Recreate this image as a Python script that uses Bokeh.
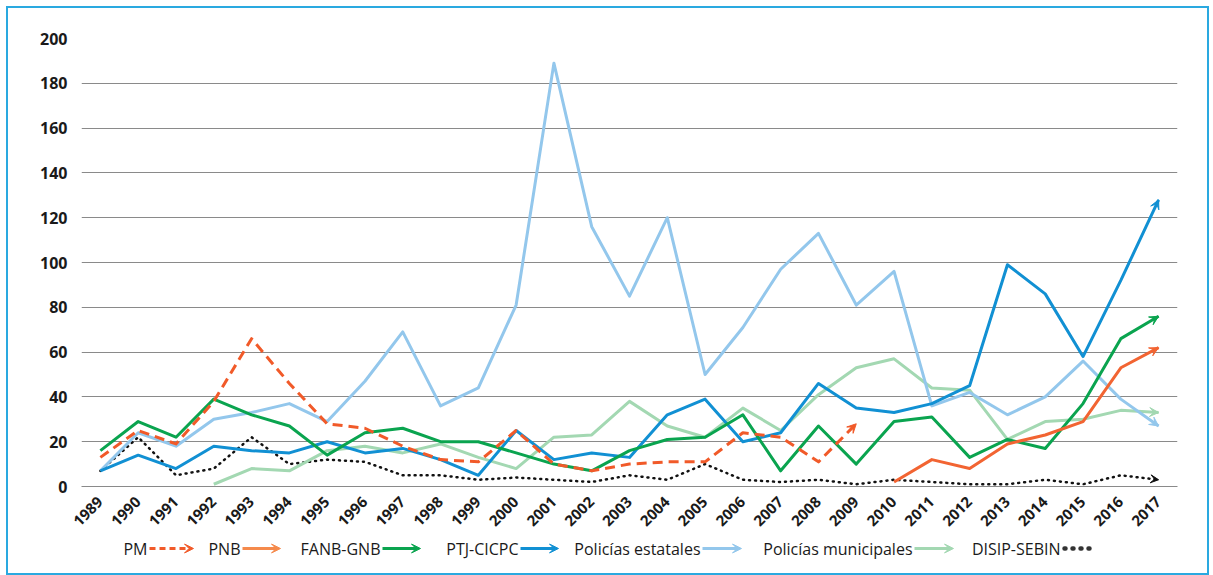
import math
from bokeh.plotting import figure
from bokeh.models import Range1d, FixedTicker, Arrow, VeeHead
from bokeh.layouts import column
from bokeh.core.properties import value
from bokeh.embed import file_html
from bokeh.resources import INLINE

NaN = float("nan")

years = list(range(1989, 2018))
y_ticks = [0, 20, 40, 60, 80, 100, 120, 140, 160, 180, 200]

pm = [13, 25, 19, 38, 66, 46, 28, 26, 18, 12, 11, 25, 10, 7, 10, 11, 11, 24, 22, 11, 28,
      NaN, NaN, NaN, NaN, NaN, NaN, NaN, NaN]
pnb = [NaN] * 21 + [2, 12, 8, 19, 23, 29, 53, 62]
fanb = [16, 29, 22, 39, 32, 27, 14, 24, 26, 20, 20, 15, 10, 7, 16, 21, 22, 32, 7, 27, 10,
        29, 31, 13, 21, 17, 37, 66, 76]
ptj = [7, 14, 8, 18, 16, 15, 20, 15, 17, 12, 5, 25, 12, 15, 13, 32, 39, 20, 24, 46, 35,
       33, 37, 45, 99, 86, 58, 92, 128]
estatales = [7, 24, 18, 30, 33, 37, 29, 47, 69, 36, 44, 81, 189, 116, 85, 120, 50, 71, 97,
             113, 81, 96, 36, 42, 32, 40, 56, 39, 27]
municipales = [NaN, NaN, NaN, 1, 8, 7, 16, 18, 15, 19, 13, 8, 22, 23, 38, 27, 22, 35, 25,
               41, 53, 57, 44, 43, 21, 29, 30, 34, 33]
disip = [7, 22, 5, 8, 22, 10, 12, 11, 5, 5, 3, 4, 3, 2, 5, 3, 10, 3, 2, 3, 1, 3, 2, 1, 1,
         3, 1, 5, 3]

names = ["PM", "PNB", "FANB-GNB", "PTJ-CICPC", "Policías estatales",
         "Policías municipales", "DISIP-SEBIN"]

FONT = "Open Sans"
W = 1199
ML, MR = 73, 30          # frame borders in the figure (frame = page x 81..1177)

p = figure(width=W, height=530, output_backend="svg", toolbar_location=None,
           x_range=Range1d(1988.5, 2017.5), y_range=Range1d(0, 200),
           min_border_left=ML, min_border_right=MR, min_border_top=30,
           min_border_bottom=52)
p.outline_line_color = None
p.background_fill_color = "white"
p.border_fill_color = "white"

p.xgrid.grid_line_color = None
p.ygrid.grid_line_color = "#8a8a8a"
p.ygrid.grid_line_width = 1

p.yaxis.ticker = FixedTicker(ticks=y_ticks)
p.yaxis.axis_line_color = None
p.yaxis.major_tick_line_color = None
p.yaxis.minor_tick_line_color = None
p.yaxis.major_label_text_font = FONT
p.yaxis.major_label_text_font_style = "bold"
p.yaxis.major_label_text_font_size = "16px"
p.yaxis.major_label_text_color = "#1a1a1a"
p.yaxis.major_label_standoff = 8

p.xaxis.ticker = FixedTicker(ticks=years)
p.xaxis.major_label_overrides = {y: str(y) for y in years}
p.xaxis.axis_line_color = "#8a8a8a"
p.xaxis.major_tick_line_color = None
p.xaxis.minor_tick_line_color = None
p.xaxis.major_label_orientation = math.pi / 4
p.xaxis.major_label_text_font = FONT
p.xaxis.major_label_text_font_style = "bold"
p.xaxis.major_label_text_font_size = "15px"
p.xaxis.major_label_text_color = "#1a1a1a"
p.xaxis.major_label_standoff = 7

series = [
    (disip, "#111111", 2.5, "1 5", "round"),
    (municipales, "#a3d8b2", 3, "solid", "butt"),
    (estatales, "#93c7ec", 3, "solid", "butt"),
    (ptj, "#1190d3", 3, "solid", "butt"),
    (fanb, "#0aa44f", 3, "solid", "butt"),
    (pnb, "#f26432", 3, "solid", "butt"),
    (pm, "#f15a29", 3, "10 6", "butt"),
]
for vals, col, lw, dash, cap in series:
    p.line(years, vals, line_color=col, line_width=lw, line_dash=dash, line_cap=cap,
           line_join="round")
    idx = [i for i, v in enumerate(vals) if not (isinstance(v, float) and math.isnan(v))]
    i1, i0 = idx[-1], idx[-2]
    hs = 9 if col != "#111111" else 8
    p.add_layout(Arrow(x_start=years[i0], y_start=vals[i0], x_end=years[i1], y_end=vals[i1],
                       line_alpha=0,
                       end=VeeHead(size=hs, fill_color=col, line_color=col, line_width=1)))

# legend strip (its frame is aligned with the main frame: x range in page pixels)
LH = 35
leg = figure(width=W, height=LH, output_backend="svg", toolbar_location=None,
             x_range=Range1d(81, 1177), y_range=Range1d(0, LH),
             x_axis_location=None, y_axis_location=None,
             min_border_left=ML, min_border_right=MR,
             min_border_top=0, min_border_bottom=0)
leg.grid.visible = False
leg.outline_line_color = None
leg.border_fill_color = "white"

leg_x = [147, 240, 380, 518, 700, 912, 1060]
leg_len = [44, 38, 38, 38, 39, 39, 34]
leg_cols = ["#f15a29", "#f58a4c", "#0aa44f", "#1190d3", "#93c7ec", "#a3d8b2", "#333333"]
leg_dash = ["6 4", "solid", "solid", "solid", "solid", "solid", "1 7"]
ly = 25
leg.text(x=leg_x, y=[ly] * 7, text=names, text_align="right", text_baseline="middle",
         text_font=value(FONT), text_font_size="16px", text_color="#1a1a1a")
for i in range(7):
    x0 = leg_x[i] + 2
    x1 = x0 + leg_len[i]
    if i == 6:
        leg.line([x0 + 2, x1], [ly, ly], line_color=leg_cols[i], line_width=4.5,
                 line_dash=leg_dash[i], line_cap="round")
    else:
        leg.line([x0, x1 - 4], [ly, ly], line_color=leg_cols[i], line_width=3,
                 line_dash=leg_dash[i])
        leg.add_layout(Arrow(x_start=x0, y_start=ly, x_end=x1, y_end=ly, line_alpha=0,
                             end=VeeHead(size=9, fill_color=leg_cols[i],
                                         line_color=leg_cols[i], line_width=1)))

layout = column(p, leg)
layout.styles = {"margin-left": "8px", "margin-top": "8px",
                 "outline": "2px solid #2aa9e0"}

open("out.html", "w").write(file_html(layout, INLINE))
